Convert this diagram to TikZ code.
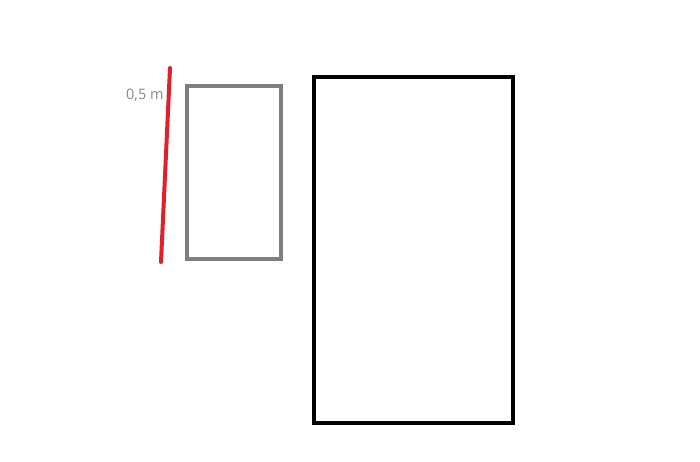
\documentclass[tikz,border=0pt]{standalone}
\usepackage{fontspec}
\setmainfont{Open Sans}
\definecolor{redline}{HTML}{E0202A}
\definecolor{grayline}{HTML}{7F7F7F}
\definecolor{labelgray}{HTML}{8A8A8A}
\tikzset{
  box/.style={draw, line width=4pt, fill=none},
  measure/.style={draw=redline, line width=4pt, line cap=round},
  lbl/.style={text=labelgray, font=\fontsize{14.5}{17}\selectfont, inner sep=0pt}
}
\begin{document}
\begin{tikzpicture}[x=1pt,y=-1pt]
\useasboundingbox[fill=white] (0,0) rectangle (700,462);
\node[lbl, anchor=west] (label) at (126,95) {0,5 m};
\coordinate (rtop) at (170,68);
\coordinate (rbot) at (161,262);
\draw[measure] (rtop) -- (rbot);
\draw[box, draw=grayline] (187,86) rectangle (281,259);
\draw[box, draw=black] (314,77) rectangle (513,423);
\end{tikzpicture}
\end{document}
